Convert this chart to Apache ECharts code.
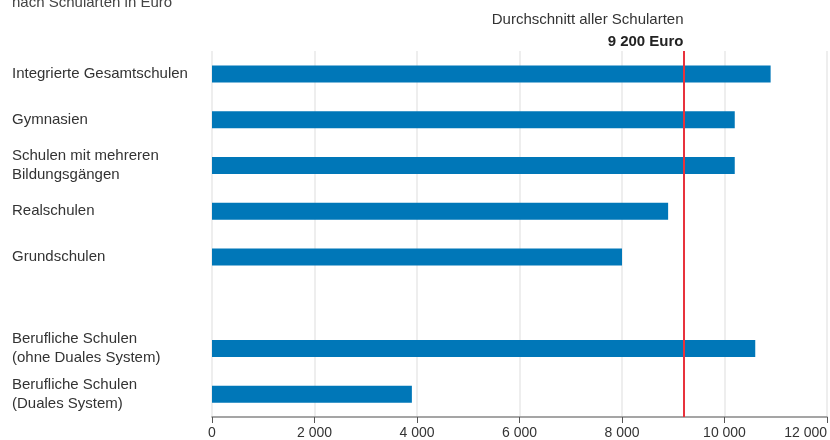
<!DOCTYPE html>
<html>
<head>
<meta charset="utf-8">
<script src="https://cdn.jsdelivr.net/npm/echarts@6/dist/echarts.min.js"></script>
<style>
  html, body { margin: 0; padding: 0; background: #fff; }
  #chart { width: 830px; height: 440px; }
</style>
</head>
<body>
<div id="chart"></div>
<script>
// Ausgaben je Schülerin und Schüler nach Schularten (Euro)
const schularten = [
  'Integrierte Gesamtschulen',
  'Gymnasien',
  'Schulen mit mehreren\nBildungsgängen',
  'Realschulen',
  'Grundschulen',
  '',
  'Berufliche Schulen\n(ohne Duales System)',
  'Berufliche Schulen\n(Duales System)'
];
const ausgaben = [10900, 10200, 10200, 8900, 8000, null, 10600, 3900];
const durchschnitt = 9200;
const durchschnittText = 'Durchschnitt aller Schularten';
const durchschnittWert = '9 200 Euro';
const xTicks = [0, 2000, 4000, 6000, 8000, 10000, 12000];

const fmt = v => String(v).replace(/\B(?=(\d{3})+(?!\d))/g, ' ');
const font = '"Liberation Sans", Arial, sans-serif';

const chart = echarts.init(document.getElementById('chart'));
chart.setOption({
  animation: false,
  textStyle: { fontFamily: font },
  title: {
    text: 'nach Schularten in Euro',
    left: 7,
    top: -10,
    textStyle: { fontFamily: font, fontSize: 15, fontWeight: 'normal', color: '#444' }
  },
  grid: { left: 212, right: 0, top: 51, bottom: 20 },
  xAxis: {
    type: 'value',
    min: xTicks[0],
    max: xTicks[xTicks.length - 1],
    interval: xTicks[1] - xTicks[0],
    axisLine: { show: true, lineStyle: { color: '#888', width: 1.5 } },
    axisTick: { show: true, length: 6, lineStyle: { color: '#555', width: 1 } },
    axisLabel: {
      formatter: fmt,
      color: '#333',
      fontSize: 14,
      fontFamily: font,
      margin: 9,
      alignMaxLabel: 'right'
    },
    splitLine: { show: true, lineStyle: { color: '#e8e8e8', width: 1.5 } }
  },
  yAxis: {
    type: 'category',
    inverse: true,
    data: schularten,
    axisLine: { show: false },
    axisTick: { show: false },
    axisLabel: {
      align: 'left',
      margin: 200,
      color: '#333',
      fontSize: 15,
      lineHeight: 19,
      fontFamily: font
    }
  },
  series: [{
    type: 'bar',
    data: ausgaben,
    barWidth: 17,
    itemStyle: { color: '#0077b8' },
    markLine: {
      symbol: 'none',
      silent: true,
      lineStyle: { color: '#e8323c', width: 2, type: 'solid' },
      label: {
        show: true,
        position: 'start',
        formatter: '{a|' + durchschnittText + '}\n{b|' + durchschnittWert + '}',
        align: 'right',
        distance: 2,
        offset: [0, 4],
        rich: {
          a: { fontSize: 15, color: '#333', fontFamily: font, lineHeight: 22, align: 'right' },
          b: { fontSize: 15, color: '#222', fontWeight: 'bold', fontFamily: font, lineHeight: 22, align: 'right' }
        }
      },
      data: [{ xAxis: durchschnitt }]
    }
  }]
});
</script>
</body>
</html>
